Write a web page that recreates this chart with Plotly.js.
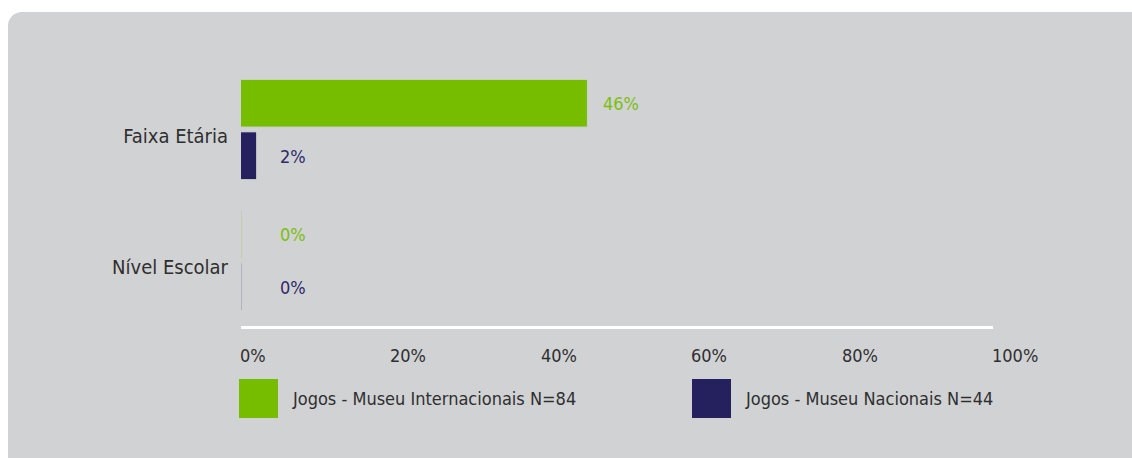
<!DOCTYPE html>
<html>
<head>
<meta charset="utf-8">
<script src="https://cdn.plot.ly/plotly-3.0.1.min.js"></script>
<style>
  html, body { margin:0; padding:0; background:#ffffff; width:1132px; height:458px; overflow:hidden; }
  #panel { position:absolute; left:8px; top:12px; width:1124px; height:446px; background:#d1d2d4; border-top-left-radius:14px; }
  #chart { position:absolute; left:0; top:0; width:1132px; height:458px; }
</style>
</head>
<body>
<div id="panel"></div>
<div id="chart"></div>
<script>
// ---- data ----
const categories = ["Faixa Etária", "Nível Escolar"];
const seriesNames = ["Jogos - Museu Internacionais N=84", "Jogos - Museu Nacionais N=44"];
const internacionais = [46, 0];
const nacionais = [2, 0];
const xTickValues = [0, 20, 40, 60, 80, 100];
const xTickLabels = ["0%", "20%", "40%", "60%", "80%", "100%"];

// ---- style ----
const FONT = "DejaVu Sans Condensed, sans-serif";
const FS = 18;
const TEXT = "#2f2f2f";
const colors = ["#76bd00", "#25215f"];
const labelColors = ["#7bbf0f", "#2e2a6a"];
const faint = ["rgba(118,189,0,0.18)", "rgba(37,33,95,0.18)"];

const W = 1132, H = 458;
const mL = 241, mR = 139, mT = 64, mB = 132;
const plotW = W - mL - mR, plotH = H - mT - mB;

const seriesVals = [internacionais, nacionais];

const traces = seriesVals.map((vals, i) => ({
  type: "bar",
  orientation: "h",
  name: seriesNames[i],
  y: categories,
  x: vals,
  marker: { color: colors[i], line: { color: faint[i], width: 1 } },
  hoverinfo: "skip",
  showlegend: false
}));

const annotations = [];
// value labels
seriesVals.forEach((vals, i) => {
  vals.forEach((v, j) => {
    const px = v / 100 * plotW;
    annotations.push({
      xref: "x", yref: "y", x: v, y: categories[j],
      text: v + "%", showarrow: false, xanchor: "left", yanchor: "middle",
      xshift: Math.max(14, 37 - px), yshift: i === 0 ? 26.5 : -26.5,
      font: { family: FONT, size: FS, color: labelColors[i] }
    });
  });
});
// x tick labels (left aligned at tick)
xTickValues.forEach((v, k) => {
  annotations.push({
    xref: "x", yref: "paper", x: v, y: 0,
    text: xTickLabels[k], showarrow: false, xanchor: "left", yanchor: "top",
    xshift: -3, yshift: -17,
    font: { family: FONT, size: FS, color: TEXT }
  });
});
// legend
const shapes = [];
const legendX = [239, 692], legendTop = 379, legendSize = 39;
seriesNames.forEach((name, i) => {
  shapes.push({
    type: "rect", xref: "paper", yref: "paper", layer: "above",
    x0: (legendX[i] - mL) / plotW, x1: (legendX[i] + legendSize - mL) / plotW,
    y0: (mT + plotH - legendTop) / plotH, y1: (mT + plotH - legendTop - legendSize) / plotH,
    fillcolor: colors[i], line: { width: 0 }
  });
  annotations.push({
    xref: "paper", yref: "paper",
    x: (legendX[i] + legendSize + 12 - mL) / plotW,
    y: (mT + plotH - (legendTop + legendSize / 2)) / plotH,
    text: name, showarrow: false, xanchor: "left", yanchor: "middle",
    font: { family: FONT, size: FS, color: TEXT }
  });
});

const layout = {
  width: W, height: H,
  margin: { l: mL, r: mR, t: mT, b: mB, pad: 0 },
  paper_bgcolor: "rgba(0,0,0,0)",
  plot_bgcolor: "rgba(0,0,0,0)",
  barmode: "group",
  bargap: 0.2,
  bargroupgap: 0.11,
  font: { family: FONT, size: FS, color: TEXT },
  xaxis: {
    range: [0, 100], showgrid: false, zeroline: false,
    showline: true, linecolor: "#ffffff", linewidth: 3,
    showticklabels: false, ticks: "", fixedrange: true
  },
  yaxis: {
    type: "category", autorange: "reversed", showgrid: false, zeroline: false,
    showline: false, ticks: "", ticklabelstandoff: 12, ticklabelshift: -6,
    tickfont: { family: FONT, size: 20, color: TEXT }, fixedrange: true
  },
  annotations: annotations,
  shapes: shapes
};

Plotly.newPlot("chart", traces, layout, { displayModeBar: false, staticPlot: true });
</script>
</body>
</html>
